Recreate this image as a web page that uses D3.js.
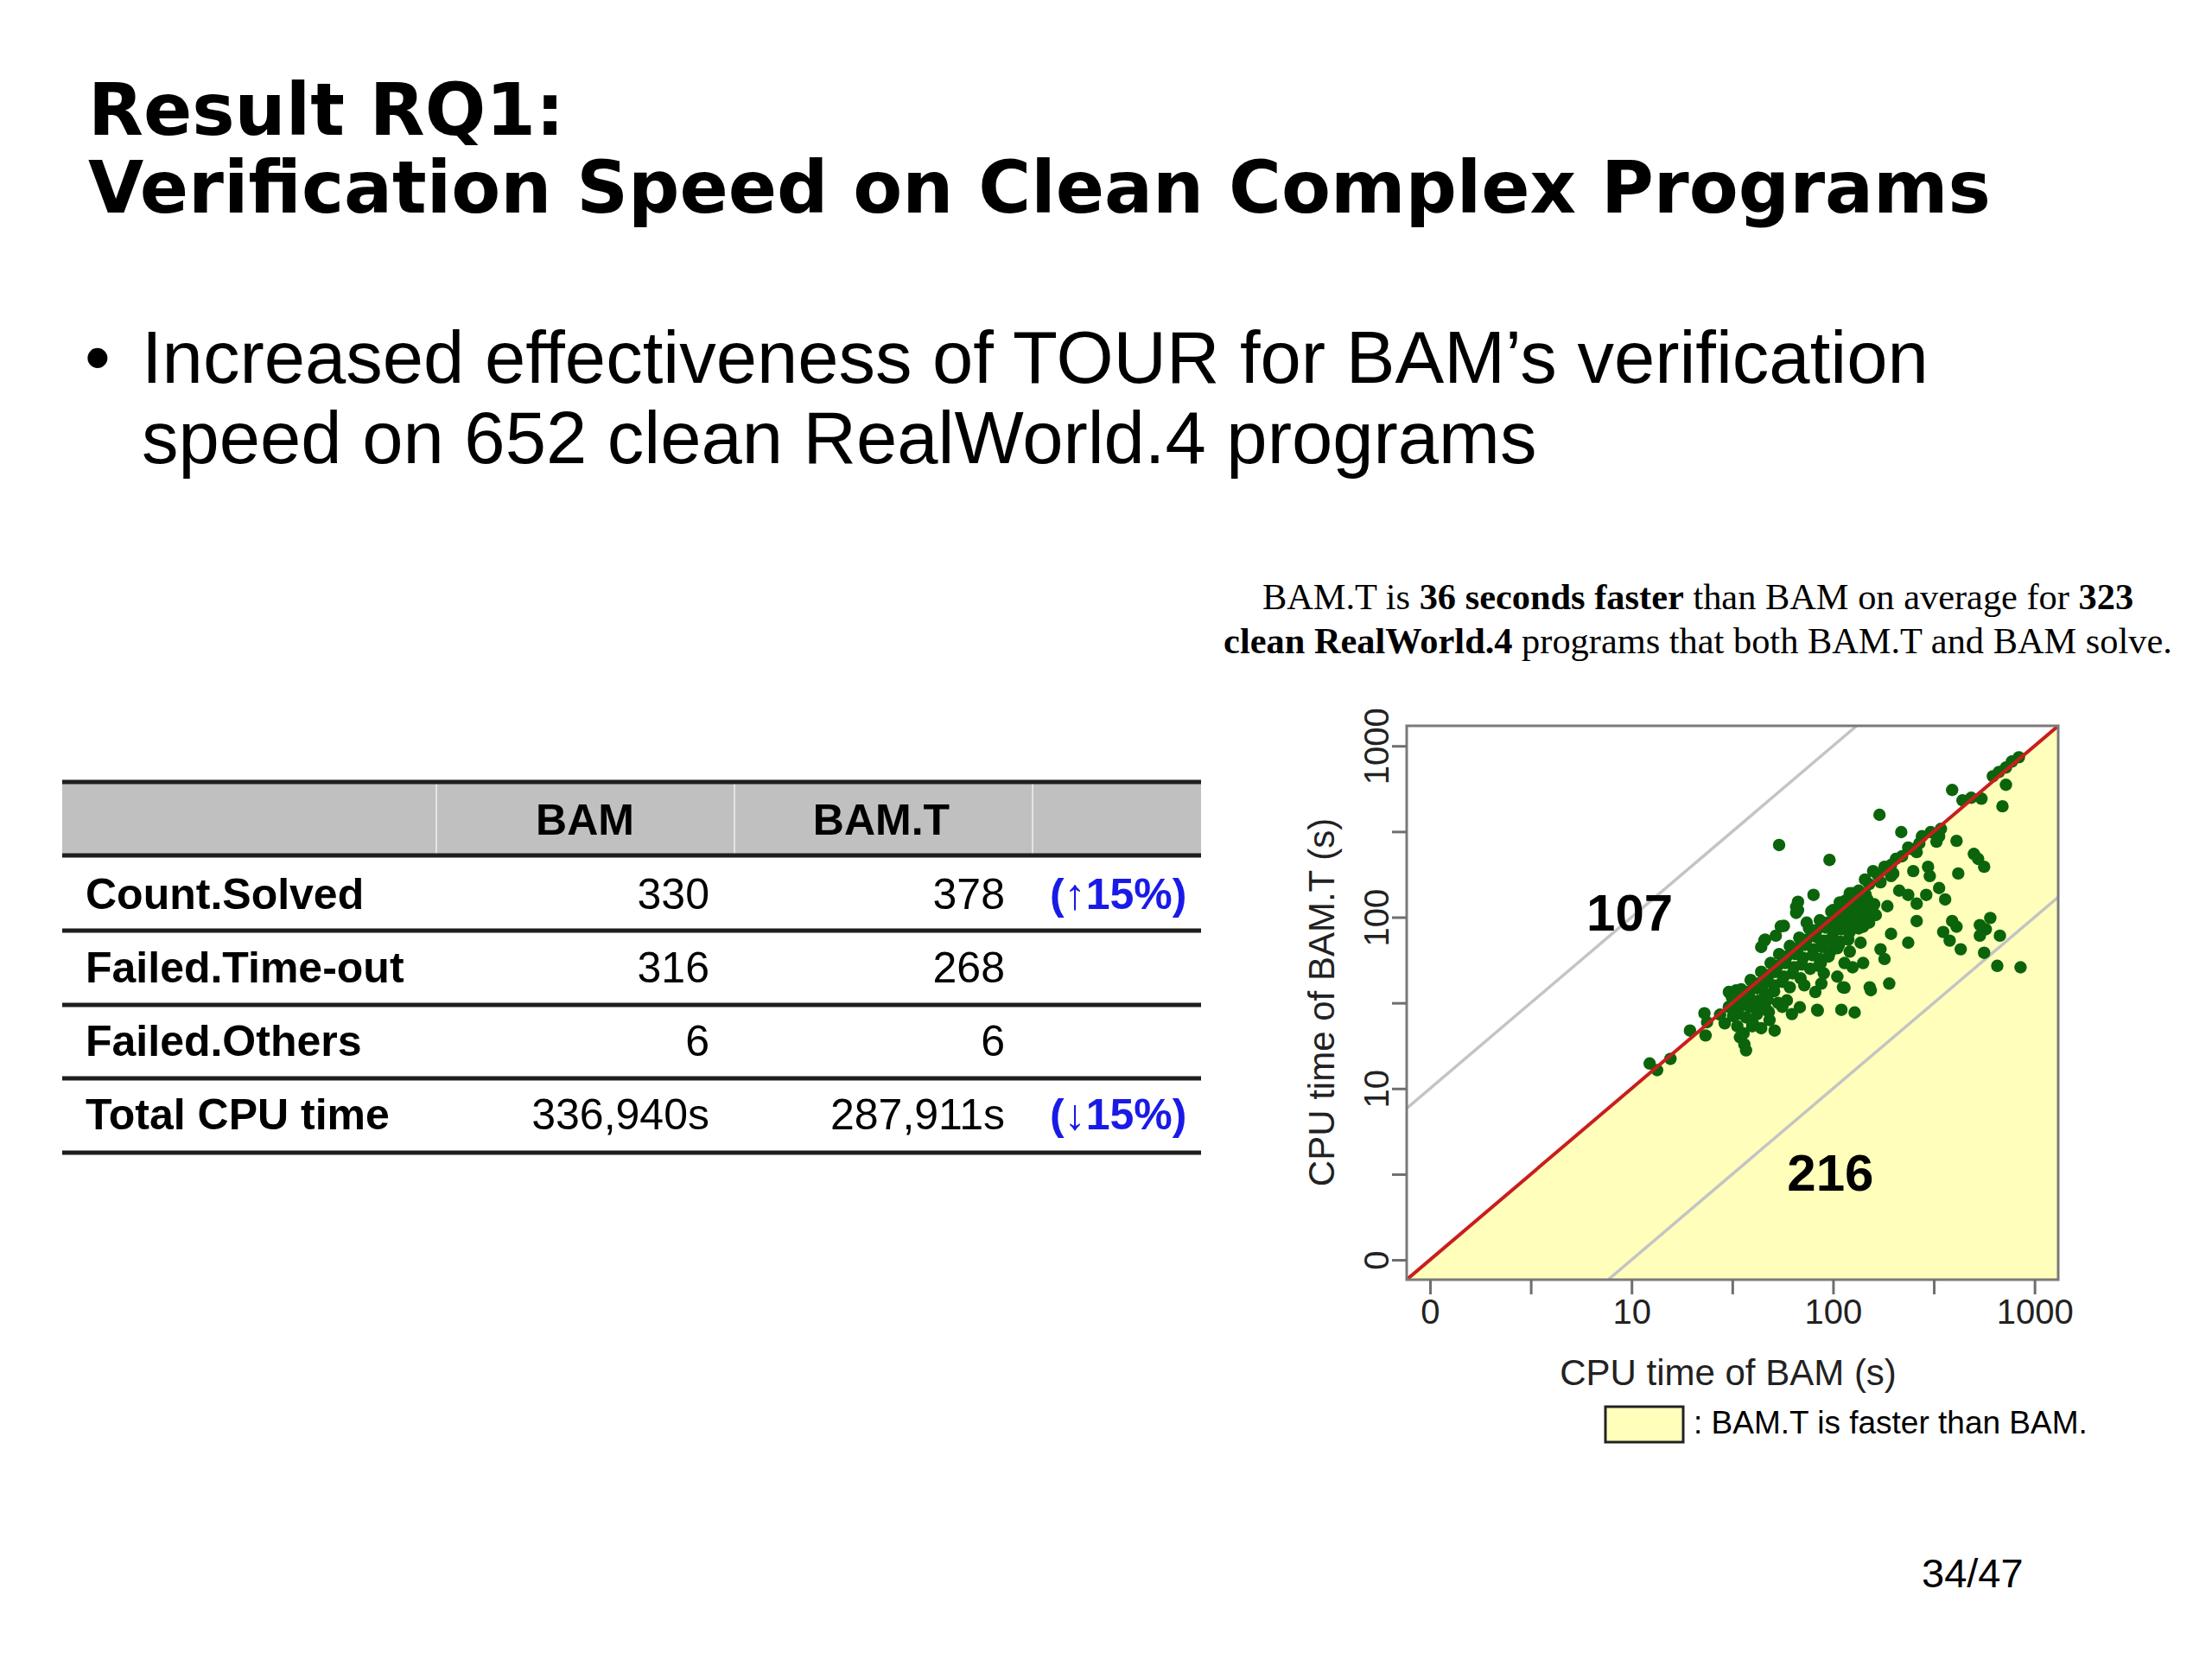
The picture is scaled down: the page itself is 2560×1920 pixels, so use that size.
<!DOCTYPE html>
<html>
<head>
<meta charset="utf-8">
<script src="https://cdn.jsdelivr.net/npm/d3@7"></script>
<style>
  body { margin: 0; background: #fff; }
  text { font-family: "Liberation Sans", Arial, sans-serif; }
</style>
</head>
<body>
<script>
// Table data
const colHeaders = ["", "BAM", "BAM.T", ""];
const rowLabels = ["Count.Solved", "Failed.Time-out", "Failed.Others", "Total CPU time"];
const bamCol = ["330", "316", "6", "336,940s"];
const bamTCol = ["378", "268", "6", "287,911s"];
const changeCol = ["(\u219115%)", "", "", "(\u219315%)"];

// Scatter: [CPU time of BAM, CPU time of BAM.T] in seconds
const points = [
  [836,859],[772,811],[721,748],[666,705],[621,665],[721,593],[693,444],[390,553],[439,481],[485,498],
  [545,492],[170,396],[218,314],[276,297],[305,314],[336,297],[326,276],[410,279],[260,240],[236,255],
  [96,216],[500,234],[525,219],[562,197],[418,180],[180,197],[205,219],[250,186],[296,197],[302,174],
  [194,174],[158,186],[144,166],[336,148],[360,127],[290,135],[213,143],[236,135],[260,120],[186,116],
  [155,116],[125,138],[114,124],[100,110],[134,105],[141,88],[260,95],[194,80],[236,71],[137,71],
  [172,65],[180,57],[141,54],[125,51],[190,41],[152,39],[112,39],[390,95],[410,88],[352,82],
  [379,73],[430,65],[603,99],[535,90],[573,85],[673,78],[535,78],[562,62],[653,52],[852,51],[54,264],
  [108,113],[118,127],[134,143],[151,156],[167,176],[194,202],[220,227],[248,249],[268,270],[343,328],
  [172,160],[199,180],[121,107],[148,127],
  [87,73],[97,63],[107,69],[114,54],[87,54],[100,83],[118,87],[90,47],[105,45],[121,63],
  [84,28.5],[128,27.8],[154,37.5],[114,38.8],
  [80,135],[67,123],[67,110],[74,93],[57,89],[52,78],[46,74],[12.3,14.0],[13.4,12.8],[15.6,14.9],
  [19.5,21.8],[23,27.5],[23.7,24.4],[23.3,20.4],[30.4,36.6],[32.4,34.6],[33.5,27.2],[33.5,23.1],[34.5,19.9],[36.3,18.1],
  [37,16.7],[39.7,23.1],[42,27.2],[46.5,29.1],[51.3,21.8],[48.4,25.1],[53.4,31.6],[59,32.7],[62.5,27.2],[68.4,29.8],
  [83.4,28.8],[110,28.8],[87.5,41],[72,40],[81.7,36.6],[45.6,73],[55,88.5],[65.6,115],[65.6,106],[44,67],
  [31.9,33.5],[33,37.4],
  [121,138],[134,132],[145,136],
  [108,122],[119,118],[131,121],[144,117],[160,119],
  [98,108],[107,105],[117,109],[128,104],[145,106],[163,103],
  [86,96],[94,93],[104,97],[114,94],[124,92],[134,96],[151,93],
  [76,86],[83,84],[92,87],[101,83],[110,85],[121,82],[134,86],
  [68,76],[74,74],[82,77],[90,73],[98,75],[108,72],[119,74],
  [61,68],[67,66],[73,69],[80,65],[88,67],[97,64],[105,66],
  [54,61],[59,59],[65,61],[71,58],[79,60],[86,57],[95,59],
  [49,54],[53,52],[58,54],[64,51],[70,53],[77,50],[85,52],
  [44,48],[48,46],[52,48],[57,45],[63,47],[69,44],
  [39,43],[42.5,41],[46.5,42],[51,40],[56,42],[61,39],
  [35,38],[38.5,37],[42,38.5],[46,36],[51,37],
  [31.5,34],[34.8,33],[38.5,34],[42.5,32.5],[47.4,33],
  [30.4,30],[34,29.5],[38.5,30],[43.4,29],
  [27.5,27],[31.9,26.5],[37,26],
  [40,24],[44,22.5],[36,21],[29,24],[48,28],[56,30]
];

// Axis ticks
const majorTicks = [1, 10, 100, 1000];
const majorLabels = ["0", "10", "100", "1000"];
const minorTicks = [3.162, 31.62, 316.2];
const regionCounts = [107, 216];

const W = 2560, H = 1920;
const svg = d3.select("body").append("svg").attr("width", W).attr("height", H);
svg.append("rect").attr("width", W).attr("height", H).attr("fill", "#fff");

// Title
svg.append("text").attr("x", 102).attr("y", 156)
  .style("font-family", "'DejaVu Sans', sans-serif").style("font-weight", "bold").style("font-size", "83px")
  .text("Result RQ1:");
svg.append("text").attr("x", 102).attr("y", 246)
  .style("font-family", "'DejaVu Sans', sans-serif").style("font-weight", "bold").style("font-size", "83px")
  .text("Verification Speed on Clean Complex Programs");

// Bullet
svg.append("text").attr("x", 98).attr("y", 443).style("font-size", "85px").text("\u2022");
svg.append("text").attr("x", 164).attr("y", 443).style("font-size", "85px")
  .text("Increased effectiveness of TOUR for BAM\u2019s verification");
svg.append("text").attr("x", 164).attr("y", 536).style("font-size", "85px")
  .text("speed on 652 clean RealWorld.4 programs");

// Table
const tX0 = 72, tX1 = 1390;
const lineYs = [905, 990, 1077, 1163, 1248, 1334];
const colEdges = [tX0, 505, 850, 1195, tX1];
const table = svg.append("g");
table.append("rect").attr("x", tX0).attr("y", lineYs[0]).attr("width", tX1 - tX0)
  .attr("height", lineYs[1] - lineYs[0]).attr("fill", "#c0c0c0");
table.selectAll("line.div").data(colEdges.slice(1, 4)).enter().append("line")
  .attr("x1", d => d).attr("x2", d => d).attr("y1", lineYs[0]).attr("y2", lineYs[1])
  .attr("stroke", "#e4e4e4").attr("stroke-width", 2);
table.selectAll("line.row").data(lineYs).enter().append("line")
  .attr("x1", tX0).attr("x2", tX1).attr("y1", d => d).attr("y2", d => d)
  .attr("stroke", "#1e1e1e").attr("stroke-width", 5);
const hdrX = [0, 677, 1020, 0];
table.selectAll("text.hdr").data(colHeaders).enter().append("text")
  .attr("x", (d, i) => hdrX[i])
  .attr("y", 966).attr("text-anchor", "middle")
  .style("font-weight", "bold").style("font-size", "50px").text(d => d);
const rowBase = [1052, 1137, 1222, 1307];
rowLabels.forEach((lab, i) => {
  table.append("text").attr("x", 99).attr("y", rowBase[i])
    .style("font-weight", "bold").style("font-size", "50px").text(lab);
  table.append("text").attr("x", 821).attr("y", rowBase[i]).attr("text-anchor", "end")
    .style("font-size", "50px").text(bamCol[i]);
  table.append("text").attr("x", 1163).attr("y", rowBase[i]).attr("text-anchor", "end")
    .style("font-size", "50px").text(bamTCol[i]);
  table.append("text").attr("x", 1215).attr("y", rowBase[i])
    .style("font-weight", "bold").style("font-size", "50px").attr("fill", "#1a1ae8").text(changeCol[i]);
});

// Caption above scatter
const cap = svg.append("g").style("font-size", "42.4px");
const cap1 = cap.append("text").attr("x", 1965).attr("y", 705).attr("text-anchor", "middle").style("font-family", "'Liberation Serif', serif");
cap1.append("tspan").text("BAM.T is ");
cap1.append("tspan").style("font-weight", "bold").text("36 seconds faster");
cap1.append("tspan").text(" than BAM on average for ");
cap1.append("tspan").style("font-weight", "bold").text("323");
const cap2 = cap.append("text").attr("x", 1965).attr("y", 756).attr("text-anchor", "middle").style("font-family", "'Liberation Serif', serif");
cap2.append("tspan").style("font-weight", "bold").text("clean RealWorld.4");
cap2.append("tspan").text(" programs that both BAM.T and BAM solve.");

// Scatter plot
const pLeft = 1628, pRight = 2382, pTop = 840, pBottom = 1481;
const lo = 0.766, hi = 1310;
const x = d3.scaleLog().domain([lo, hi]).range([pLeft, pRight]);
const y = d3.scaleLog().domain([lo, hi]).range([pBottom, pTop]);

svg.append("clipPath").attr("id", "plotclip").append("rect")
  .attr("x", pLeft).attr("y", pTop).attr("width", pRight - pLeft).attr("height", pBottom - pTop);
const plot = svg.append("g").attr("clip-path", "url(#plotclip)");

plot.append("path")
  .attr("d", d3.line()([[x(lo), y(lo)], [x(hi), y(lo)], [x(hi), y(hi)]]) + "Z")
  .attr("fill", "#ffffbb");

const line = d3.line().x(d => x(d[0])).y(d => y(d[1]));
plot.append("path").attr("d", line([[lo, lo * 10], [hi / 10, hi]]))
  .attr("stroke", "#c4c4c4").attr("stroke-width", 3.5).attr("fill", "none");
plot.append("path").attr("d", line([[lo * 10, lo], [hi, hi / 10]]))
  .attr("stroke", "#c4c4c4").attr("stroke-width", 3.5).attr("fill", "none");

plot.selectAll("circle").data(points).enter().append("circle")
  .attr("cx", d => x(d[0])).attr("cy", d => y(d[1])).attr("r", 7.2)
  .attr("fill", "#0b640b");

plot.append("path").attr("d", line([[lo, lo], [hi, hi]]))
  .attr("stroke", "#c81e1e").attr("stroke-width", 4).attr("fill", "none");

svg.append("rect").attr("x", pLeft).attr("y", pTop).attr("width", pRight - pLeft).attr("height", pBottom - pTop)
  .attr("fill", "none").attr("stroke", "#7a7a7a").attr("stroke-width", 3);

// Axes
const fmt = d => { const k = majorTicks.indexOf(d); return k >= 0 ? majorLabels[k] : ""; };
const allTicks = majorTicks.concat(minorTicks).sort((a, b) => a - b);

const xAxis = svg.append("g").attr("transform", `translate(0,${pBottom})`)
  .call(d3.axisBottom(x).tickValues(allTicks).tickFormat(fmt).tickSize(17));
xAxis.select(".domain").remove();
xAxis.selectAll(".tick line").attr("stroke", "#6e6e6e").attr("stroke-width", 3);
xAxis.selectAll(".tick text").attr("y", 51).attr("dy", 0)
  .style("font-size", "40px").style("font-family", "'Liberation Sans', Arial, sans-serif").attr("fill", "#222");

const yAxis = svg.append("g").attr("transform", `translate(${pLeft},0)`)
  .call(d3.axisLeft(y).tickValues(allTicks).tickFormat(fmt).tickSize(17));
yAxis.select(".domain").remove();
yAxis.selectAll(".tick line").attr("stroke", "#6e6e6e").attr("stroke-width", 3);
yAxis.selectAll(".tick text").attr("transform", "rotate(-90)")
  .attr("x", 0).attr("y", -21).attr("dy", 0).attr("text-anchor", "middle")
  .style("font-size", "40px").style("font-family", "'Liberation Sans', Arial, sans-serif").attr("fill", "#222");

svg.append("text").attr("x", 2000).attr("y", 1603).attr("text-anchor", "middle")
  .style("font-size", "42px").attr("fill", "#222").text("CPU time of BAM (s)");
svg.append("text").attr("transform", "translate(1544,1160) rotate(-90)").attr("text-anchor", "middle")
  .style("font-size", "42px").attr("fill", "#222").text("CPU time of BAM.T (s)");

// Region counts
svg.append("text").attr("x", x(9.8)).attr("y", y(84)).attr("text-anchor", "middle")
  .style("font-weight", "bold").style("font-size", "60px").text(regionCounts[0]);
svg.append("text").attr("x", x(97)).attr("y", y(2.53)).attr("text-anchor", "middle")
  .style("font-weight", "bold").style("font-size", "60px").text(regionCounts[1]);

// Legend
svg.append("rect").attr("x", 1858).attr("y", 1628).attr("width", 90).attr("height", 41)
  .attr("fill", "#ffffbb").attr("stroke", "#222").attr("stroke-width", 3);
svg.append("text").attr("x", 1960).attr("y", 1659).style("font-size", "37px")
  .text(": BAM.T is faster than BAM.");

// Page number
svg.append("text").attr("x", 2224).attr("y", 1837).style("font-size", "47px").text("34/47");
</script>
</body>
</html>
